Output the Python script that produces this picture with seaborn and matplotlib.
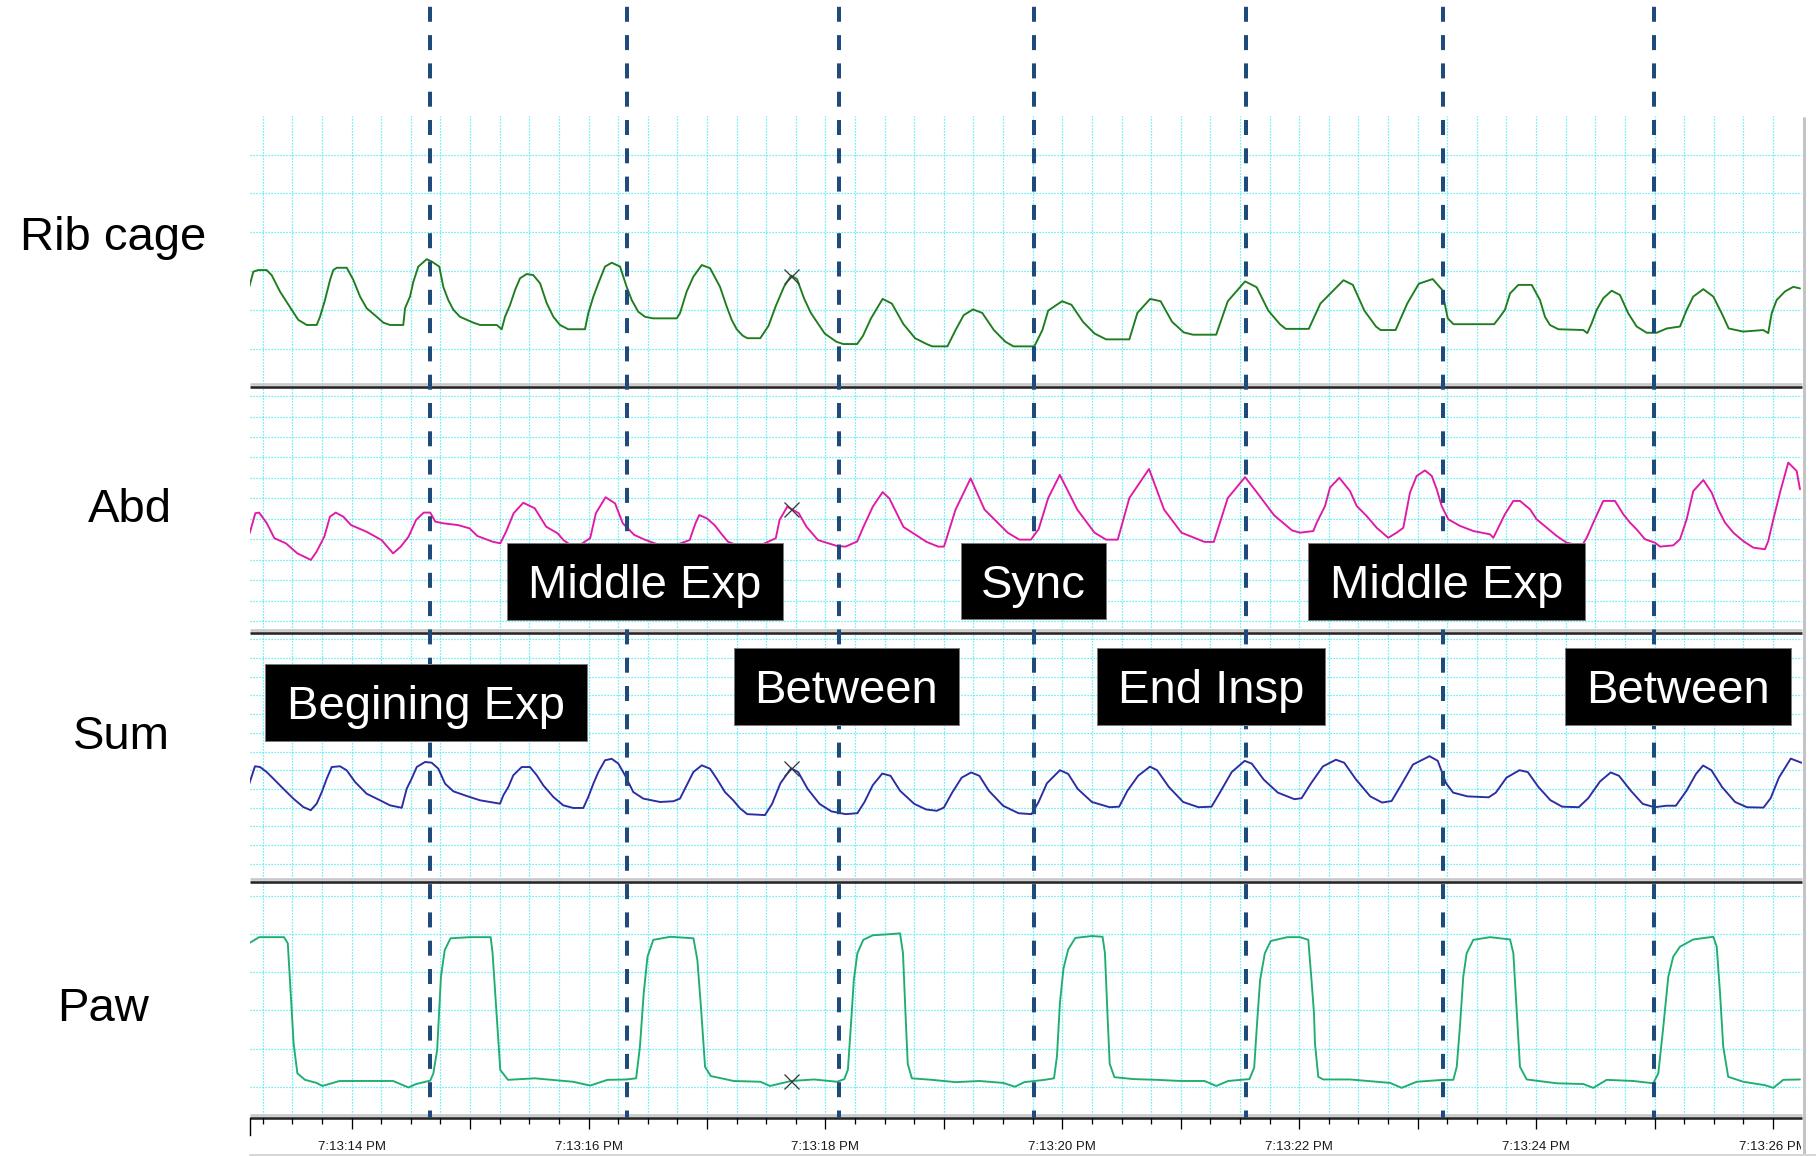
import numpy as np
import matplotlib
matplotlib.use("Agg")
import matplotlib.pyplot as plt
import seaborn as sns
from matplotlib.patches import Rectangle
from matplotlib.ticker import MultipleLocator, FuncFormatter
from matplotlib.transforms import Bbox, TransformedBbox

# ---------------------------------------------------------------------------
# Recorded signals: time in seconds after 7:13 PM, amplitude in grid divisions
# ---------------------------------------------------------------------------
rib_t = [13.136, 13.170, 13.21, 13.283, 13.325, 13.395, 13.494, 13.55, 13.621, 13.705,
         13.733, 13.775, 13.818, 13.845, 13.874, 13.959, 14.014, 14.071, 14.127, 14.212,
         14.268, 14.324, 14.436, 14.451, 14.493, 14.521, 14.563, 14.634, 14.676, 14.740,
         14.774, 14.816, 14.859, 14.915, 15.027, 15.084, 15.225, 15.267, 15.295, 15.337,
         15.38, 15.422, 15.478, 15.534, 15.591, 15.647, 15.703, 15.759, 15.829, 15.970,
         15.998, 16.041, 16.083, 16.139, 16.196, 16.266, 16.322, 16.365, 16.420, 16.477,
         16.545, 16.745, 16.772, 16.829, 16.885, 16.956, 17.026, 17.110, 17.167, 17.209,
         17.251, 17.30, 17.34, 17.45, 17.52, 17.58, 17.65, 17.71, 17.76, 17.82,
         17.877, 17.994, 18.092, 18.15, 18.268, 18.317, 18.385, 18.483, 18.561, 18.659,
         18.757, 18.854, 18.903, 19.03, 19.099, 19.167, 19.246, 19.324, 19.422, 19.519,
         19.588, 19.764, 19.832, 19.881, 19.998, 20.077, 20.175, 20.272, 20.37, 20.566,
         20.634, 20.742, 20.83, 20.927, 21.025, 21.103, 21.299, 21.397, 21.543, 21.641,
         21.739, 21.837, 21.886, 22.081, 22.179, 22.374, 22.453, 22.55, 22.648, 22.687,
         22.814, 22.912, 23.01, 23.127, 23.205, 23.254, 23.303, 23.646, 23.695, 23.737,
         23.780, 23.850, 23.963, 24.033, 24.075, 24.117, 24.188, 24.399, 24.432, 24.469,
         24.512, 24.568, 24.638, 24.708, 24.778, 24.849, 24.934, 25.018, 25.103, 25.215,
         25.272, 25.327, 25.412, 25.496, 25.567, 25.626, 25.749, 25.918, 25.960, 25.989,
         26.031, 26.101, 26.171, 26.228]
rib_v = [2.60, 2.99, 3.03, 3.03, 2.90, 2.48, 2.01, 1.75, 1.62, 1.62,
         1.83, 2.26, 2.78, 3.03, 3.09, 3.09, 2.78, 2.35, 2.05, 1.83,
         1.68, 1.62, 1.62, 2.05, 2.35, 2.73, 3.12, 3.31, 3.25, 3.12,
         2.60, 2.26, 2.01, 1.83, 1.68, 1.62, 1.62, 1.51, 1.83, 2.13,
         2.52, 2.82, 2.93, 2.90, 2.69, 2.18, 1.83, 1.62, 1.51, 1.51,
         1.92, 2.35, 2.69, 3.12, 3.22, 3.12, 2.60, 2.26, 1.96, 1.83,
         1.79, 1.79, 1.92, 2.48, 2.86, 3.16, 3.08, 2.60, 2.09, 1.75,
         1.51, 1.35, 1.28, 1.28, 1.60, 2.10, 2.60, 2.89, 2.80, 2.30,
         1.93, 1.40, 1.19, 1.13, 1.13, 1.34, 1.79, 2.29, 2.17, 1.64,
         1.28, 1.13, 1.07, 1.07, 1.49, 1.87, 2.02, 1.93, 1.49, 1.19,
         1.07, 1.07, 1.49, 1.99, 2.23, 2.14, 1.70, 1.40, 1.25, 1.25,
         1.93, 2.29, 2.23, 1.70, 1.43, 1.37, 1.37, 2.23, 2.74, 2.59,
         1.99, 1.64, 1.52, 1.52, 2.17, 2.77, 2.65, 1.99, 1.58, 1.49,
         1.49, 2.17, 2.68, 2.80, 2.53, 1.79, 1.64, 1.64, 1.83, 2.01,
         2.43, 2.65, 2.65, 2.26, 1.83, 1.62, 1.51, 1.49, 1.41, 1.66,
         2.01, 2.31, 2.50, 2.39, 1.92, 1.58, 1.42, 1.42, 1.53, 1.58,
         2.01, 2.35, 2.54, 2.35, 1.92, 1.53, 1.45, 1.49, 1.41, 1.92,
         2.26, 2.48, 2.60, 2.56]

abd_t = [13.139, 13.187, 13.219, 13.284, 13.348, 13.445, 13.542, 13.656, 13.704, 13.769,
         13.817, 13.866, 13.930, 13.995, 14.124, 14.253, 14.350, 14.415, 14.480, 14.544,
         14.609, 14.664, 14.706, 14.770, 14.899, 14.996, 15.061, 15.190, 15.255, 15.304,
         15.368, 15.449, 15.546, 15.643, 15.739, 15.788, 15.886, 16.014, 16.062, 16.144,
         16.224, 16.289, 16.386, 16.483, 16.671, 16.854, 16.903, 16.935, 16.999, 17.064,
         17.129, 17.177, 17.363, 17.581, 17.613, 17.678, 17.775, 17.840, 17.937, 18.098,
         18.17, 18.268, 18.32, 18.40, 18.483, 18.54, 18.659, 18.854, 18.952, 19.001,
         19.099, 19.226, 19.343, 19.539, 19.637, 19.735, 19.80, 19.881, 19.979, 20.126,
         20.272, 20.37, 20.468, 20.566, 20.732, 20.859, 21.006, 21.201, 21.279, 21.397,
         21.543, 21.641, 21.788, 21.94, 22.007, 22.119, 22.148, 22.218, 22.260, 22.339,
         22.429, 22.486, 22.570, 22.654, 22.752, 22.823, 22.879, 22.935, 22.992, 23.062,
         23.119, 23.161, 23.203, 23.259, 23.358, 23.470, 23.611, 23.639, 23.695, 23.737,
         23.808, 23.864, 23.949, 24.005, 24.090, 24.174, 24.258, 24.385, 24.427, 24.483,
         24.567, 24.666, 24.736, 24.793, 24.849, 24.919, 25.004, 25.046, 25.158, 25.215,
         25.271, 25.327, 25.412, 25.483, 25.538, 25.595, 25.665, 25.749, 25.834, 25.932,
         25.960, 26.003, 26.059, 26.129, 26.200, 26.228]
abd_v = [4.30, 5.28, 5.31, 4.79, 4.06, 3.81, 3.32, 3.00, 3.40, 4.13,
         5.11, 5.31, 5.11, 4.70, 4.38, 3.97, 3.32, 3.65, 4.13, 4.95,
         5.31, 5.31, 4.87, 4.79, 4.70, 4.54, 4.17, 3.89, 3.81, 4.38,
         5.28, 5.79, 5.52, 4.62, 4.30, 3.97, 3.58, 4.06, 5.28, 6.06,
         5.76, 4.79, 4.22, 3.97, 3.58, 3.97, 4.79, 5.19, 5.03, 4.70,
         4.22, 3.89, 3.48, 4.06, 4.95, 5.60, 5.28, 4.62, 3.97, 3.68,
         3.65, 3.90, 4.60, 5.60, 6.31, 6.00, 4.61, 3.88, 3.65, 3.65,
         5.46, 6.98, 5.46, 4.33, 3.99, 3.99, 4.50, 6.02, 7.15, 5.46,
         4.33, 3.99, 3.99, 6.02, 7.44, 5.46, 4.33, 3.88, 3.88, 6.02,
         7.04, 6.31, 5.18, 4.44, 4.33, 4.41, 4.82, 5.63, 6.53, 7.01,
         6.36, 5.63, 5.14, 4.57, 4.08, 4.33, 4.57, 6.28, 7.10, 7.37,
         7.10, 6.45, 5.63, 4.98, 4.66, 4.41, 4.25, 4.08, 4.74, 5.23,
         5.88, 5.88, 5.47, 4.98, 4.57, 4.17, 3.84, 3.68, 4.08, 4.82,
         5.88, 5.88, 5.23, 4.82, 4.49, 4.01, 3.84, 3.65, 3.71, 4.01,
         4.98, 6.36, 6.90, 6.28, 5.47, 4.82, 4.33, 3.92, 3.60, 3.52,
         3.92, 4.98, 6.28, 7.75, 7.34, 6.45]

sum_t = [13.136, 13.184, 13.227, 13.283, 13.339, 13.423, 13.508, 13.592, 13.655, 13.705,
         13.748, 13.790, 13.832, 13.902, 13.959, 14.029, 14.127, 14.240, 14.324, 14.423,
         14.465, 14.507, 14.550, 14.620, 14.676, 14.732, 14.789, 14.859, 14.972, 15.084,
         15.253, 15.281, 15.323, 15.365, 15.436, 15.506, 15.563, 15.618, 15.703, 15.787,
         15.872, 15.956, 15.998, 16.041, 16.083, 16.139, 16.196, 16.252, 16.308, 16.378,
         16.463, 16.604, 16.716, 16.772, 16.829, 16.885, 16.956, 17.026, 17.082, 17.152,
         17.222, 17.279, 17.34, 17.49, 17.55, 17.62, 17.71, 17.77, 17.85, 17.95,
         18.05, 18.17, 18.27, 18.33, 18.40, 18.48, 18.55, 18.63, 18.75, 18.85,
         18.94, 19.00, 19.07, 19.15, 19.23, 19.30, 19.38, 19.50, 19.63, 19.74,
         19.80, 19.87, 19.98, 20.05, 20.13, 20.25, 20.40, 20.48, 20.55, 20.64,
         20.74, 20.80, 20.90, 21.02, 21.15, 21.26, 21.33, 21.43, 21.54, 21.60,
         21.70, 21.82, 21.96, 22.02, 22.10, 22.20, 22.31, 22.38, 22.48, 22.60,
         22.70, 22.78, 22.86, 22.96, 23.10, 23.17, 23.24, 23.30, 23.42, 23.60,
         23.66, 23.75, 23.86, 23.93, 24.02, 24.12, 24.22, 24.36, 24.44, 24.54,
         24.63, 24.70, 24.80, 24.90, 25.00, 25.10, 25.18, 25.27, 25.35, 25.41,
         25.48, 25.57, 25.68, 25.78, 25.92, 25.98, 26.05, 26.15, 26.24]
sum_v = [4.28, 5.21, 5.17, 4.90, 4.55, 4.01, 3.48, 3.03, 2.86, 3.21,
         3.83, 4.55, 5.17, 5.21, 4.99, 4.37, 3.74, 3.39, 3.12, 2.99,
         4.01, 4.55, 5.17, 5.44, 5.40, 5.08, 4.28, 3.87, 3.62, 3.39,
         3.21, 3.66, 4.10, 4.73, 5.17, 5.17, 4.73, 4.19, 3.57, 3.12,
         2.98, 2.98, 3.57, 4.28, 4.90, 5.53, 5.61, 5.35, 4.73, 3.83,
         3.48, 3.30, 3.34, 3.48, 4.19, 4.90, 5.26, 5.08, 4.55, 3.83,
         3.39, 2.96, 2.65, 2.60, 3.20, 4.30, 5.10, 4.90, 4.00, 3.20,
         2.80, 2.65, 2.70, 3.30, 4.20, 4.82, 4.70, 3.90, 3.20, 2.90,
         2.83, 3.00, 3.80, 4.60, 4.88, 4.70, 3.90, 3.10, 2.70, 2.65,
         3.30, 4.30, 5.00, 4.80, 4.00, 3.30, 3.02, 3.05, 3.90, 4.70,
         5.19, 5.00, 4.10, 3.30, 3.02, 3.05, 3.80, 4.90, 5.50, 5.35,
         4.50, 3.80, 3.45, 3.50, 4.30, 5.20, 5.56, 5.40, 4.50, 3.60,
         3.27, 3.35, 4.20, 5.30, 5.75, 5.50, 4.30, 3.80, 3.60, 3.55,
         3.80, 4.60, 5.00, 4.90, 4.10, 3.40, 3.05, 3.02, 3.50, 4.40,
         4.88, 4.70, 3.90, 3.20, 3.02, 3.10, 3.10, 3.90, 4.80, 5.25,
         5.00, 4.10, 3.30, 3.02, 3.00, 3.50, 4.60, 5.62, 5.40]

paw_t = [13.139, 13.219, 13.429, 13.461, 13.478, 13.494, 13.510, 13.542, 13.607, 13.704,
         13.753, 13.898, 14.350, 14.480, 14.544, 14.664, 14.690, 14.722, 14.754, 14.786,
         14.835, 14.996, 15.174, 15.190, 15.222, 15.255, 15.320, 15.546, 15.869, 16.014,
         16.160, 16.321, 16.402, 16.434, 16.466, 16.498, 16.547, 16.692, 16.886, 16.919,
         16.951, 16.984, 17.032, 17.226, 17.452, 17.532, 17.710, 17.904, 18.098, 18.16,
         18.19, 18.215, 18.24, 18.27, 18.32, 18.40, 18.55, 18.63, 18.655, 18.675,
         18.695, 18.73, 18.90, 19.10, 19.30, 19.50, 19.60, 19.68, 19.85, 19.93,
         19.955, 19.98, 20.01, 20.05, 20.11, 20.25, 20.34, 20.36, 20.38, 20.40,
         20.44, 20.60, 20.80, 21.00, 21.20, 21.30, 21.40, 21.58, 21.62, 21.645,
         21.67, 21.71, 21.76, 21.90, 22.007, 22.077, 22.106, 22.125, 22.133, 22.161,
         22.203, 22.429, 22.654, 22.767, 22.865, 22.992, 23.217, 23.301, 23.330, 23.357,
         23.385, 23.414, 23.470, 23.611, 23.780, 23.808, 23.836, 23.864, 23.921, 24.174,
         24.399, 24.483, 24.596, 24.821, 24.989, 25.032, 25.074, 25.116, 25.158, 25.215,
         25.327, 25.496, 25.525, 25.553, 25.580, 25.622, 25.749, 25.933, 26.003, 26.087,
         26.228]
paw_v = [3.77, 3.92, 3.92, 3.76, 2.88, 2.01, 1.14, 0.35, 0.18, 0.10,
         0.02, 0.15, 0.15, -0.02, 0.07, 0.16, 0.35, 0.96, 2.88, 3.58,
         3.89, 3.92, 3.92, 3.50, 2.01, 0.44, 0.18, 0.22, 0.13, 0.03,
         0.18, 0.19, 0.22, 1.05, 2.45, 3.41, 3.85, 3.93, 3.89, 3.32,
         2.01, 0.52, 0.28, 0.15, 0.13, 0.02, 0.15, 0.19, 0.13, 0.20,
         0.45, 1.60, 2.80, 3.50, 3.85, 3.97, 4.00, 4.02, 3.50, 2.00,
         0.60, 0.22, 0.18, 0.12, 0.15, 0.10, 0.00, 0.12, 0.18, 0.22,
         0.80, 2.20, 3.10, 3.60, 3.90, 3.95, 3.93, 3.50, 2.00, 0.60,
         0.25, 0.20, 0.18, 0.15, 0.15, 0.02, 0.15, 0.20, 0.50, 1.70,
         2.80, 3.50, 3.82, 3.92, 3.92, 3.85, 2.71, 1.92, 1.14, 0.26,
         0.19, 0.19, 0.13, 0.10, -0.03, 0.13, 0.18, 0.18, 0.52, 1.57,
         2.88, 3.50, 3.85, 3.92, 3.86, 3.50, 2.01, 0.52, 0.19, 0.09,
         0.07, -0.03, 0.18, 0.15, 0.09, 0.35, 1.57, 2.88, 3.41, 3.67,
         3.86, 3.93, 3.67, 2.45, 1.05, 0.26, 0.13, 0.04, -0.03, 0.18,
         0.19]

channel_names = ["Rib cage", "Abd", "Sum", "Paw"]
event_times = [14.662, 16.321, 18.111, 19.765, 21.554, 23.214, 24.998]
cursor_time = 17.71
phase_labels = ["Middle Exp", "Sync", "Middle Exp", "Begining Exp",
                "Between", "End Insp", "Between"]

# ---------------------------------------------------------------------------
# Styling / layout
# ---------------------------------------------------------------------------
sns.set_theme(style="white")
plt.rcParams["font.family"] = ["Liberation Sans", "DejaVu Sans"]
plt.rcParams["lines.scale_dashes"] = False

W, H = 1816, 1156
PX = 72 / 100            # points per pixel at 100 dpi
X0, X1 = 250, 1802       # recorder strip, pixels
T0, T1 = 13.142, 26.245  # visible time window, s
CYAN = "#34eaf3"
NAVY = "#1f4a7c"

fig = plt.figure(figsize=(W / 100, H / 100), dpi=100)
fig.patch.set_facecolor("white")


def rect(x0, y0, x1, y1):
    return [x0 / W, 1 - y1 / H, (x1 - x0) / W, (y1 - y0) / H]


panels = [
    dict(t=rib_t, v=rib_v, color="#1f7d1f", top=116, bottom=387,
         ylim=(0.026, 6.99), grid=range(1, 7)),
    dict(t=abd_t, v=abd_v, color="#e01aa6", top=387, bottom=632.5,
         ylim=(-0.542, 11.44), grid=range(0, 12)),
    dict(t=sum_t, v=sum_v, color="#2c2ca3", top=632.5, bottom=882,
         ylim=(-0.979, 12.364), grid=range(0, 13)),
    dict(t=paw_t, v=paw_v, color="#1fae72", top=882, bottom=1117.5,
         ylim=(-0.807, 5.366), grid=range(0, 6)),
]
label_pos = [(113.5, 249.5), (129.5, 522.5), (121, 749), (103, 1021)]

quarter_secs = np.arange(13.25, 26.01, 0.25)

for p in panels:
    ax = fig.add_axes(rect(X0, p["top"], X1, p["bottom"]))
    sns.lineplot(x=p["t"], y=p["v"], ax=ax, color=p["color"],
                 linewidth=1.9 * PX, sort=False, estimator=None, legend=False)
    ax.plot([cursor_time], [np.interp(cursor_time, p["t"], p["v"])],
            marker="x", ms=15 * PX, mew=1.3 * PX, color="#3a3a3a",
            linestyle="none", zorder=5)
    ax.set_xlim(T0, T1)
    ax.set_ylim(*p["ylim"])
    ax.set_xticks(quarter_secs)
    ax.set_yticks(list(p["grid"]))
    ax.set_xlabel("")
    ax.set_ylabel("")
    ax.tick_params(length=0, labelleft=False, labelbottom=False)
    ax.grid(True, color=CYAN, linewidth=1.2 * PX, linestyle=(0, (1.2 * PX, 1.8 * PX)))
    ax.set_axisbelow(True)
    for s in ax.spines.values():
        s.set_visible(False)
    ax.set_facecolor("white")

# frame: channel separators, right border, channel names
fr = fig.add_axes([0, 0, 1, 1])
fr.set_xlim(0, W)
fr.set_ylim(H, 0)
fr.axis("off")
fr.patch.set_alpha(0)
for y in [387, 632.5, 882, 1117.5]:
    fr.plot([X0, X1], [y - 2.6, y - 2.6], color="#c8c8c8", lw=2.6 * PX,
            solid_capstyle="butt")
    fr.plot([X0, X1], [y, y], color="#262626", lw=2.6 * PX, solid_capstyle="butt")
fr.plot([1803.5, 1803.5], [118, H], color="#c4c4c4", lw=3 * PX)
fr.plot([X0, W], [1154.5, 1154.5], color="#d6d6d6", lw=2 * PX)
for name, (cx, by) in zip(channel_names, label_pos):
    fr.text(cx, by, name, ha="center", va="baseline", fontsize=34, color="black")

# time axis
tax = fig.add_axes(rect(X0, 1117.5, X1, 1135))
tax.patch.set_alpha(0)
tax.set_xlim(T0, T1)
tax.set_yticks([])
for side in ["top", "right", "bottom"]:
    tax.spines[side].set_visible(False)
tax.spines["left"].set_color("black")
tax.spines["left"].set_linewidth(1.4 * PX)
tax.xaxis.set_major_locator(MultipleLocator(1))
tax.xaxis.set_minor_locator(MultipleLocator(0.25))
tax.xaxis.set_major_formatter(FuncFormatter(
    lambda x, _: f"7:13:{int(round(x)):02d} PM" if int(round(x)) % 2 == 0 else ""))
tax.tick_params(axis="x", which="both", top=True, bottom=False, labeltop=False,
                labelbottom=True, direction="in", color="black", width=1.3 * PX)
tax.tick_params(axis="x", which="major", length=11 * PX, pad=4.3,
                labelsize=9.5, labelcolor="#1a1a1a")
tax.tick_params(axis="x", which="minor", length=6 * PX)
clip = TransformedBbox(Bbox([[0, 0], [1801 / W, 1]]), fig.transFigure)
for lbl in tax.get_xticklabels():
    lbl.set_clip_box(clip)
    lbl.set_clip_on(True)

# event markers
dax = fig.add_axes(rect(X0, 0, X1, 1117.5))
dax.set_xlim(T0, T1)
dax.set_ylim(0, 1)
dax.axis("off")
dax.patch.set_alpha(0)
for et in event_times:
    dax.plot([et, et], [1, 0], color=NAVY, lw=4 * PX,
             linestyle=(21.5 * PX, (15 * PX, 13.3 * PX)), dash_capstyle="butt")

# phase annotations
bax = fig.add_axes([0, 0, 1, 1])
bax.set_xlim(0, W)
bax.set_ylim(H, 0)
bax.axis("off")
bax.patch.set_alpha(0)
boxes = [(507.3, 543.3, 782.7, 620), (961, 543.3, 1105.7, 618.5),
         (1308.3, 543.3, 1585, 620), (265, 664.3, 586.7, 740.7),
         (733.6, 648.3, 959.3, 725), (1097.3, 648.3, 1325, 725),
         (1565, 648.3, 1790.7, 725)]
for text, (x0, y0, x1, y1) in zip(phase_labels, boxes):
    bax.add_patch(Rectangle((x0, y0), x1 - x0, y1 - y0, facecolor="black",
                            edgecolor="#7a7a7a", lw=1 * PX))
    bax.text((x0 + x1) / 2, (y0 + y1) / 2 + 16.8, text, ha="center",
             va="baseline", fontsize=34, color="white")

fig.savefig("out.png", dpi=100)
